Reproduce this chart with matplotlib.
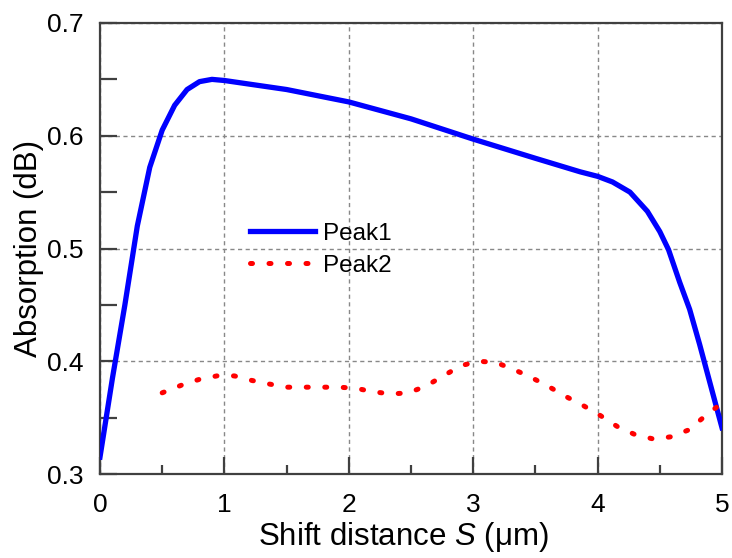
import numpy as np
import matplotlib.pyplot as plt
from matplotlib.ticker import MultipleLocator

plt.rcParams['font.family'] = ['Liberation Sans', 'DejaVu Sans']
plt.rcParams['mathtext.fontset'] = 'custom'
plt.rcParams['mathtext.it'] = 'Liberation Sans:italic'
plt.rcParams['mathtext.rm'] = 'Liberation Sans'

# Peak1 (solid blue)
peak1_x = [0.0, 0.1, 0.2, 0.3, 0.4, 0.5, 0.6, 0.7, 0.8, 0.9, 1.0, 1.5, 2.0, 2.5,
           3.0, 3.5, 3.86, 4.0, 4.12, 4.26, 4.4, 4.5, 4.57, 4.66, 4.74, 4.82, 5.0]
peak1_y = [0.315, 0.385, 0.45, 0.52, 0.572, 0.605, 0.627, 0.641, 0.648, 0.650, 0.649,
           0.641, 0.630, 0.615, 0.597, 0.580, 0.568, 0.564, 0.559, 0.550, 0.533, 0.515,
           0.499, 0.470, 0.446, 0.415, 0.341]

# Peak2 (dotted red)
peak2_x = [0.5, 0.66, 0.80, 0.94, 1.08, 1.22, 1.35, 1.5, 1.64, 1.78, 1.92, 2.06, 2.19,
           2.34, 2.48, 2.62, 2.76, 2.90, 3.04, 3.18, 3.32, 3.46, 3.60, 3.74, 3.88,
           4.02, 4.16, 4.30, 4.45, 4.59, 4.73, 4.86, 5.0]
peak2_y = [0.372, 0.379, 0.384, 0.387, 0.387, 0.383, 0.380, 0.377, 0.377, 0.377, 0.377,
           0.376, 0.373, 0.371, 0.372, 0.378, 0.387, 0.396, 0.400, 0.399, 0.393, 0.386,
           0.378, 0.369, 0.361, 0.352, 0.342, 0.335, 0.331, 0.333, 0.339, 0.351, 0.363]

fig = plt.figure(figsize=(7.32, 5.58), dpi=100)
ax = fig.add_axes([100 / 732, 1 - 474 / 558, 622 / 732, 451 / 558])

ax.grid(True, which='major', color='#888888', linestyle=(0, (3, 2.5)), linewidth=1.0)
ax.plot(peak1_x, peak1_y, color='#0000ff', linewidth=3.8, label='Peak1', zorder=3)
ax.plot(peak2_x, peak2_y, color='#ff0000', linewidth=3.6, linestyle=(0, (0.4, 3.3)),
        dash_capstyle='round', label='Peak2', zorder=3)

ax.set_xlim(0, 5)
ax.set_ylim(0.3, 0.7)
ax.xaxis.set_major_locator(MultipleLocator(1))
ax.xaxis.set_minor_locator(MultipleLocator(0.5))
ax.yaxis.set_major_locator(MultipleLocator(0.1))
ax.yaxis.set_minor_locator(MultipleLocator(0.05))
ax.set_yticks([0.3, 0.4, 0.5, 0.6, 0.7])
ax.set_yticklabels(['0.3', '0.4', '0.5', '0.6', '0.7'])

for s in ax.spines.values():
    s.set_color('#404040')
    s.set_linewidth(1.6)

ax.tick_params(which='both', direction='in', color='#404040', width=1.6,
               labelsize=19, top=False, right=False)
ax.tick_params(axis='x', which='major', length=12, pad=14)
ax.tick_params(axis='x', which='minor', length=6.5)
ax.tick_params(axis='y', which='both', length=12, pad=12)

ax.set_xlabel('Shift distance $S$ (\u03bcm)', fontsize=22.5)
ax.set_ylabel('Absorption (dB)', fontsize=22.5)
ax.xaxis.set_label_coords((403 - 100) / 622, -0.103)
ax.yaxis.set_label_coords(-0.09, 0.5)

ax.legend(loc='center left', bbox_to_anchor=(0.241, 0.497), frameon=False,
          fontsize=17.5, handlelength=2.67, handletextpad=0.33, labelspacing=0.42,
          borderaxespad=0, borderpad=0)

fig.savefig('out.png', dpi=100)
